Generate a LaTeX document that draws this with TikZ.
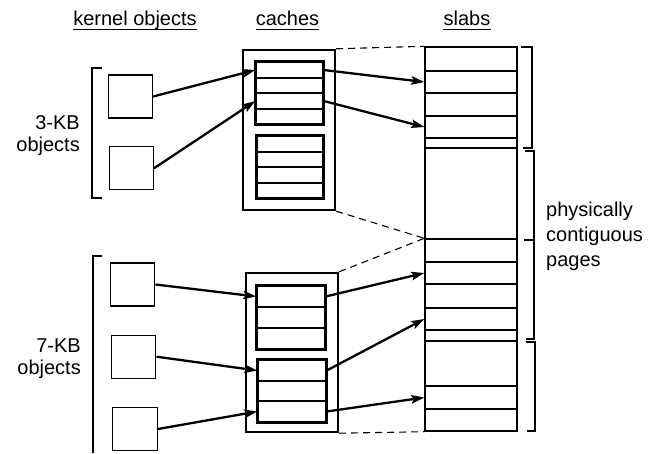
\documentclass[tikz,border=0pt]{standalone}
\usepackage{fontspec}
\setmainfont{Liberation Sans}
\usetikzlibrary{arrows.meta,fit}
\begin{document}
\begin{tikzpicture}[x=1pt,y=-1pt,
  lbl/.style={font=\fontsize{20}{24}\selectfont, inner sep=0pt},
  ul/.style={line width=1.4pt},
  obj/.style={draw, line width=1.3pt, inner sep=0pt, minimum width=44pt, minimum height=43pt},
  row/.style={draw, inner sep=0pt, line width=1.4pt},
  innerbox/.style={draw, inner sep=0pt, line width=2pt},
  outerbox/.style={draw, inner sep=0pt, line width=2.4pt},
  ptr/.style={line width=2.3pt, -{Stealth[length=13pt,width=8.5pt,inset=2.5pt]}},
  dsh/.style={line width=1.1pt, dash pattern=on 7pt off 5pt},
  brk/.style={line width=1.6pt}]
\useasboundingbox (0,0) rectangle (656,453);

% headers
\node[lbl, anchor=base] (hk) at (135,25) {kernel objects};
\node[lbl, anchor=base] (hc) at (287.5,25) {caches};
\node[lbl, anchor=base] (hs) at (467,25) {slabs};
\foreach \h in {hk,hc,hs}
  \draw[ul] ([yshift=-4.5pt]\h.base west) -- ([yshift=-4.5pt]\h.base east);

% left labels
\node[lbl, anchor=base east] (l3a) at (80,129) {3-KB};
\node[lbl, anchor=base east] (l3b) at (80,151) {objects};
\node[lbl, anchor=base east] (l7a) at (81,352) {7-KB};
\node[lbl, anchor=base east] (l7b) at (81,374) {objects};

% right label
\node[lbl, anchor=base west] (r1) at (546,216) {physically};
\node[lbl, anchor=base west] (r2) at (546,241) {contiguous};
\node[lbl, anchor=base west] (r3) at (546,266) {pages};

% left brackets
\draw[brk] (102,68) -- (92,68) -- (92,198) -- (102,198);
\draw[brk] (102,256) -- (93,256) -- (93,453);

% kernel objects
\node[obj] (o1) at (130.5,96.5) {};
\node[obj] (o2) at (131.3,168.3) {};
\node[obj] (p1) at (132.8,284.5) {};
\node[obj] (p2) at (133.8,356.7) {};
\node[obj, minimum width=45pt] (p3) at (134.8,429) {};

% slabs
\foreach \n/\a/\b in {s1/47/71, s2/71/93, s3/93/116, s4/116/138, s5/138/148,
  s6/148/239, s7/239/262, s8/262/284, s9/284/308, s10/308/330, s11/330/341,
  s12/341/386, s13/386/409, s14/409/431}
  \node[row, fit={(425,\a) (517,\b)}] (\n) {};

% caches: 3-KB
\foreach \n/\a/\b in {c1a1/62/78, c1a2/78/93, c1a3/93/109, c1a4/109/124}
  \node[row, fit={(256,\a) (323,\b)}] (\n) {};
\foreach \n/\a/\b in {c1b1/136/152, c1b2/152/167, c1b3/167/183, c1b4/183/198}
  \node[row, fit={(257,\a) (323,\b)}] (\n) {};
\node[innerbox, fit=(c1a1)(c1a4)] (c1a) {};
\node[innerbox, fit=(c1b1)(c1b4)] (c1b) {};
\node[outerbox, fit={(243,50) (335,210)}] (c1) {};

% caches: 7-KB
\foreach \n/\a/\b in {c2a1/286/307, c2a2/307/328, c2a3/328/349}
  \node[row, fit={(257,\a) (325,\b)}] (\n) {};
\foreach \n/\a/\b in {c2b1/360/381, c2b2/381/401, c2b3/401/422}
  \node[row, fit={(258,\a) (326,\b)}] (\n) {};
\node[innerbox, fit=(c2a1)(c2a3)] (c2a) {};
\node[innerbox, fit=(c2b1)(c2b3)] (c2b) {};
\node[outerbox, fit={(246,273) (338,432)}] (c2) {};

% dashed connectors
\draw[dsh] (c1.north east) -- (s1.north west);
\draw[dsh] (c1.south east) -- (s7.north west);
\draw[dsh] (c2.north east) -- (s7.north west);
\draw[dsh] (c2.south east) -- (s14.south west);

% right brackets
\draw[brk] (521,47) -- (532,47) -- (532,148) -- (523,148);
\draw[brk] (525,151) -- (534,151) -- (534,339) -- (526,339);
\draw[line width=2.8pt] (524,240) -- (534,240);
\draw[brk] (526,342) -- (535,342) -- (535,431) -- (527,431);

% pointers
\draw[ptr] (o1.east) -- (c1a1.west);
\draw[ptr] (o2.east) -- (c1a3.west);
\draw[ptr] (c1a1.east) -- (s2.west);
\draw[ptr] (c1a3.east) -- (s4.west);
\draw[ptr] (p1.east) -- (c2a1.west);
\draw[ptr] (p2.east) -- (c2b1.west);
\draw[ptr] (p3.east) -- (c2b3.west);
\draw[ptr] (c2a1.east) -- (s8.west);
\draw[ptr] (c2b1.east) -- (s10.west);
\draw[ptr] (c2b3.east) -- (s13.west);
\end{tikzpicture}
\end{document}
